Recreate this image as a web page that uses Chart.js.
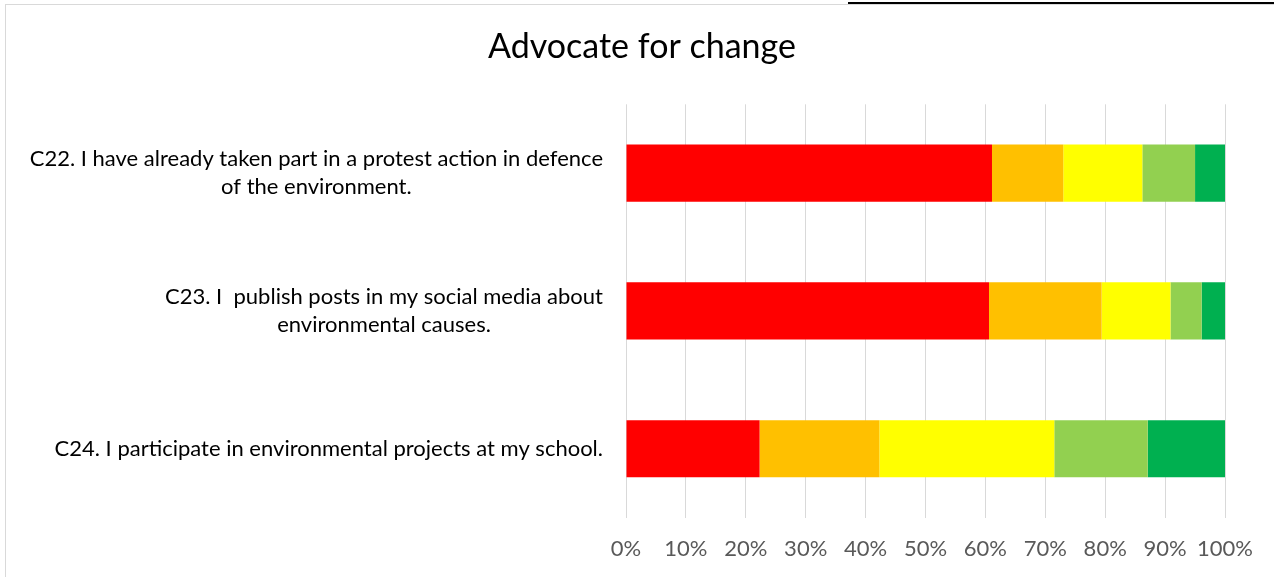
<!DOCTYPE html>
<html>
<head>
<meta charset="utf-8">
<script src="https://cdn.jsdelivr.net/npm/chart.js@4/dist/chart.umd.min.js"></script>
<style>
    html, body { margin: 0; padding: 0; background: #fff; }
    #wrap { position: relative; width: 1274px; height: 577px; overflow: hidden; }
    #frame { position: absolute; left: 5px; top: 4px; width: 1300px; height: 600px; border: 1px solid #d9d9d9; box-sizing: border-box; }
    #edge { position: absolute; left: 848px; top: 2px; width: 430px; height: 2px; background: #000; }
    canvas { position: absolute; left: 0; top: 0; }
</style>
</head>
<body>
<div id="wrap">
    <div id="frame"></div>
    <div id="edge"></div>
    <canvas id="advocateChart" width="1274" height="577"></canvas>
</div>
<script>
// Statements on the vertical axis
const statements = [
    ['C22. I have already taken part in a protest action in defence', 'of the environment.'],
    ['C23. I  publish posts in my social media about', 'environmental causes.'],
    ['C24. I participate in environmental projects at my school.']
];

// Share of answers (%) per response level, one value per statement
const neverValues = [61.1, 60.6, 22.3];
const rarelyValues = [11.9, 18.8, 20.0];
const sometimesValues = [13.2, 11.5, 29.2];
const oftenValues = [8.8, 5.2, 15.6];
const alwaysValues = [5.0, 3.9, 12.9];

const responseLabels = ['Never', 'Rarely', 'Sometimes', 'Often', 'Always'];
const responseColors = ['#FF0000', '#FFC000', '#FFFF00', '#92D050', '#00B050'];

const xTicks = [0, 10, 20, 30, 40, 50, 60, 70, 80, 90, 100];

const seriesValues = [neverValues, rarelyValues, sometimesValues, oftenValues, alwaysValues];

const datasets = seriesValues.map((values, i) => ({
    label: responseLabels[i],
    data: values,
    backgroundColor: responseColors[i],
    borderWidth: 0,
    barPercentage: 0.415,
    categoryPercentage: 1
}));

const fontFamily = 'Lato, "Open Sans", sans-serif';

// Category labels: block is right-aligned against the plot, its lines centred within it
const statementLabels = {
    id: 'statementLabels',
    afterDraw(chart) {
        const { ctx, chartArea } = chart;
        const yScale = chart.scales.y;
        const lineGap = 28;
        ctx.save();
        ctx.font = `22px ${fontFamily}`;
        ctx.fillStyle = '#000';
        ctx.textAlign = 'center';
        ctx.textBaseline = 'middle';
        chart.data.labels.forEach((lines, i) => {
            const y = yScale.getPixelForTick(i);
            const blockWidth = Math.max(...lines.map(l => ctx.measureText(l).width));
            const cx = chartArea.left - 23 - blockWidth / 2;
            const top = y - (lines.length - 1) * lineGap / 2;
            lines.forEach((line, j) => ctx.fillText(line, cx, top + j * lineGap));
        });
        ctx.restore();
    }
};

new Chart(document.getElementById('advocateChart'), {
    type: 'bar',
    data: { labels: statements, datasets },
    plugins: [statementLabels],
    options: {
        indexAxis: 'y',
        responsive: false,
        animation: false,
        layout: { padding: { top: 10, right: 49, bottom: -3, left: 59 } },
        plugins: {
            legend: { display: false },
            tooltip: { enabled: false },
            title: {
                display: true,
                text: 'Advocate for change',
                color: '#000',
                font: { family: fontFamily, size: 34, weight: 'normal' },
                padding: { top: 17, bottom: 36.5 }
            }
        },
        scales: {
            x: {
                stacked: true,
                min: 0,
                max: 100,
                afterBuildTicks: (scale) => {
                    scale.ticks = xTicks.map(v => ({ value: v }));
                },
                grid: { color: '#d9d9d9', lineWidth: 1, drawTicks: false },
                border: { display: false },
                ticks: {
                    color: '#595959',
                    padding: 18,
                    autoSkip: false,
                    maxRotation: 0,
                    minRotation: 0,
                    font: { family: fontFamily, size: 22 },
                    callback: (v) => v + '%'
                }
            },
            y: {
                stacked: true,
                grid: { display: false },
                border: { display: false },
                afterFit: (scale) => { scale.width = 567; },
                ticks: { display: false }
            }
        }
    }
});
</script>
</body>
</html>
